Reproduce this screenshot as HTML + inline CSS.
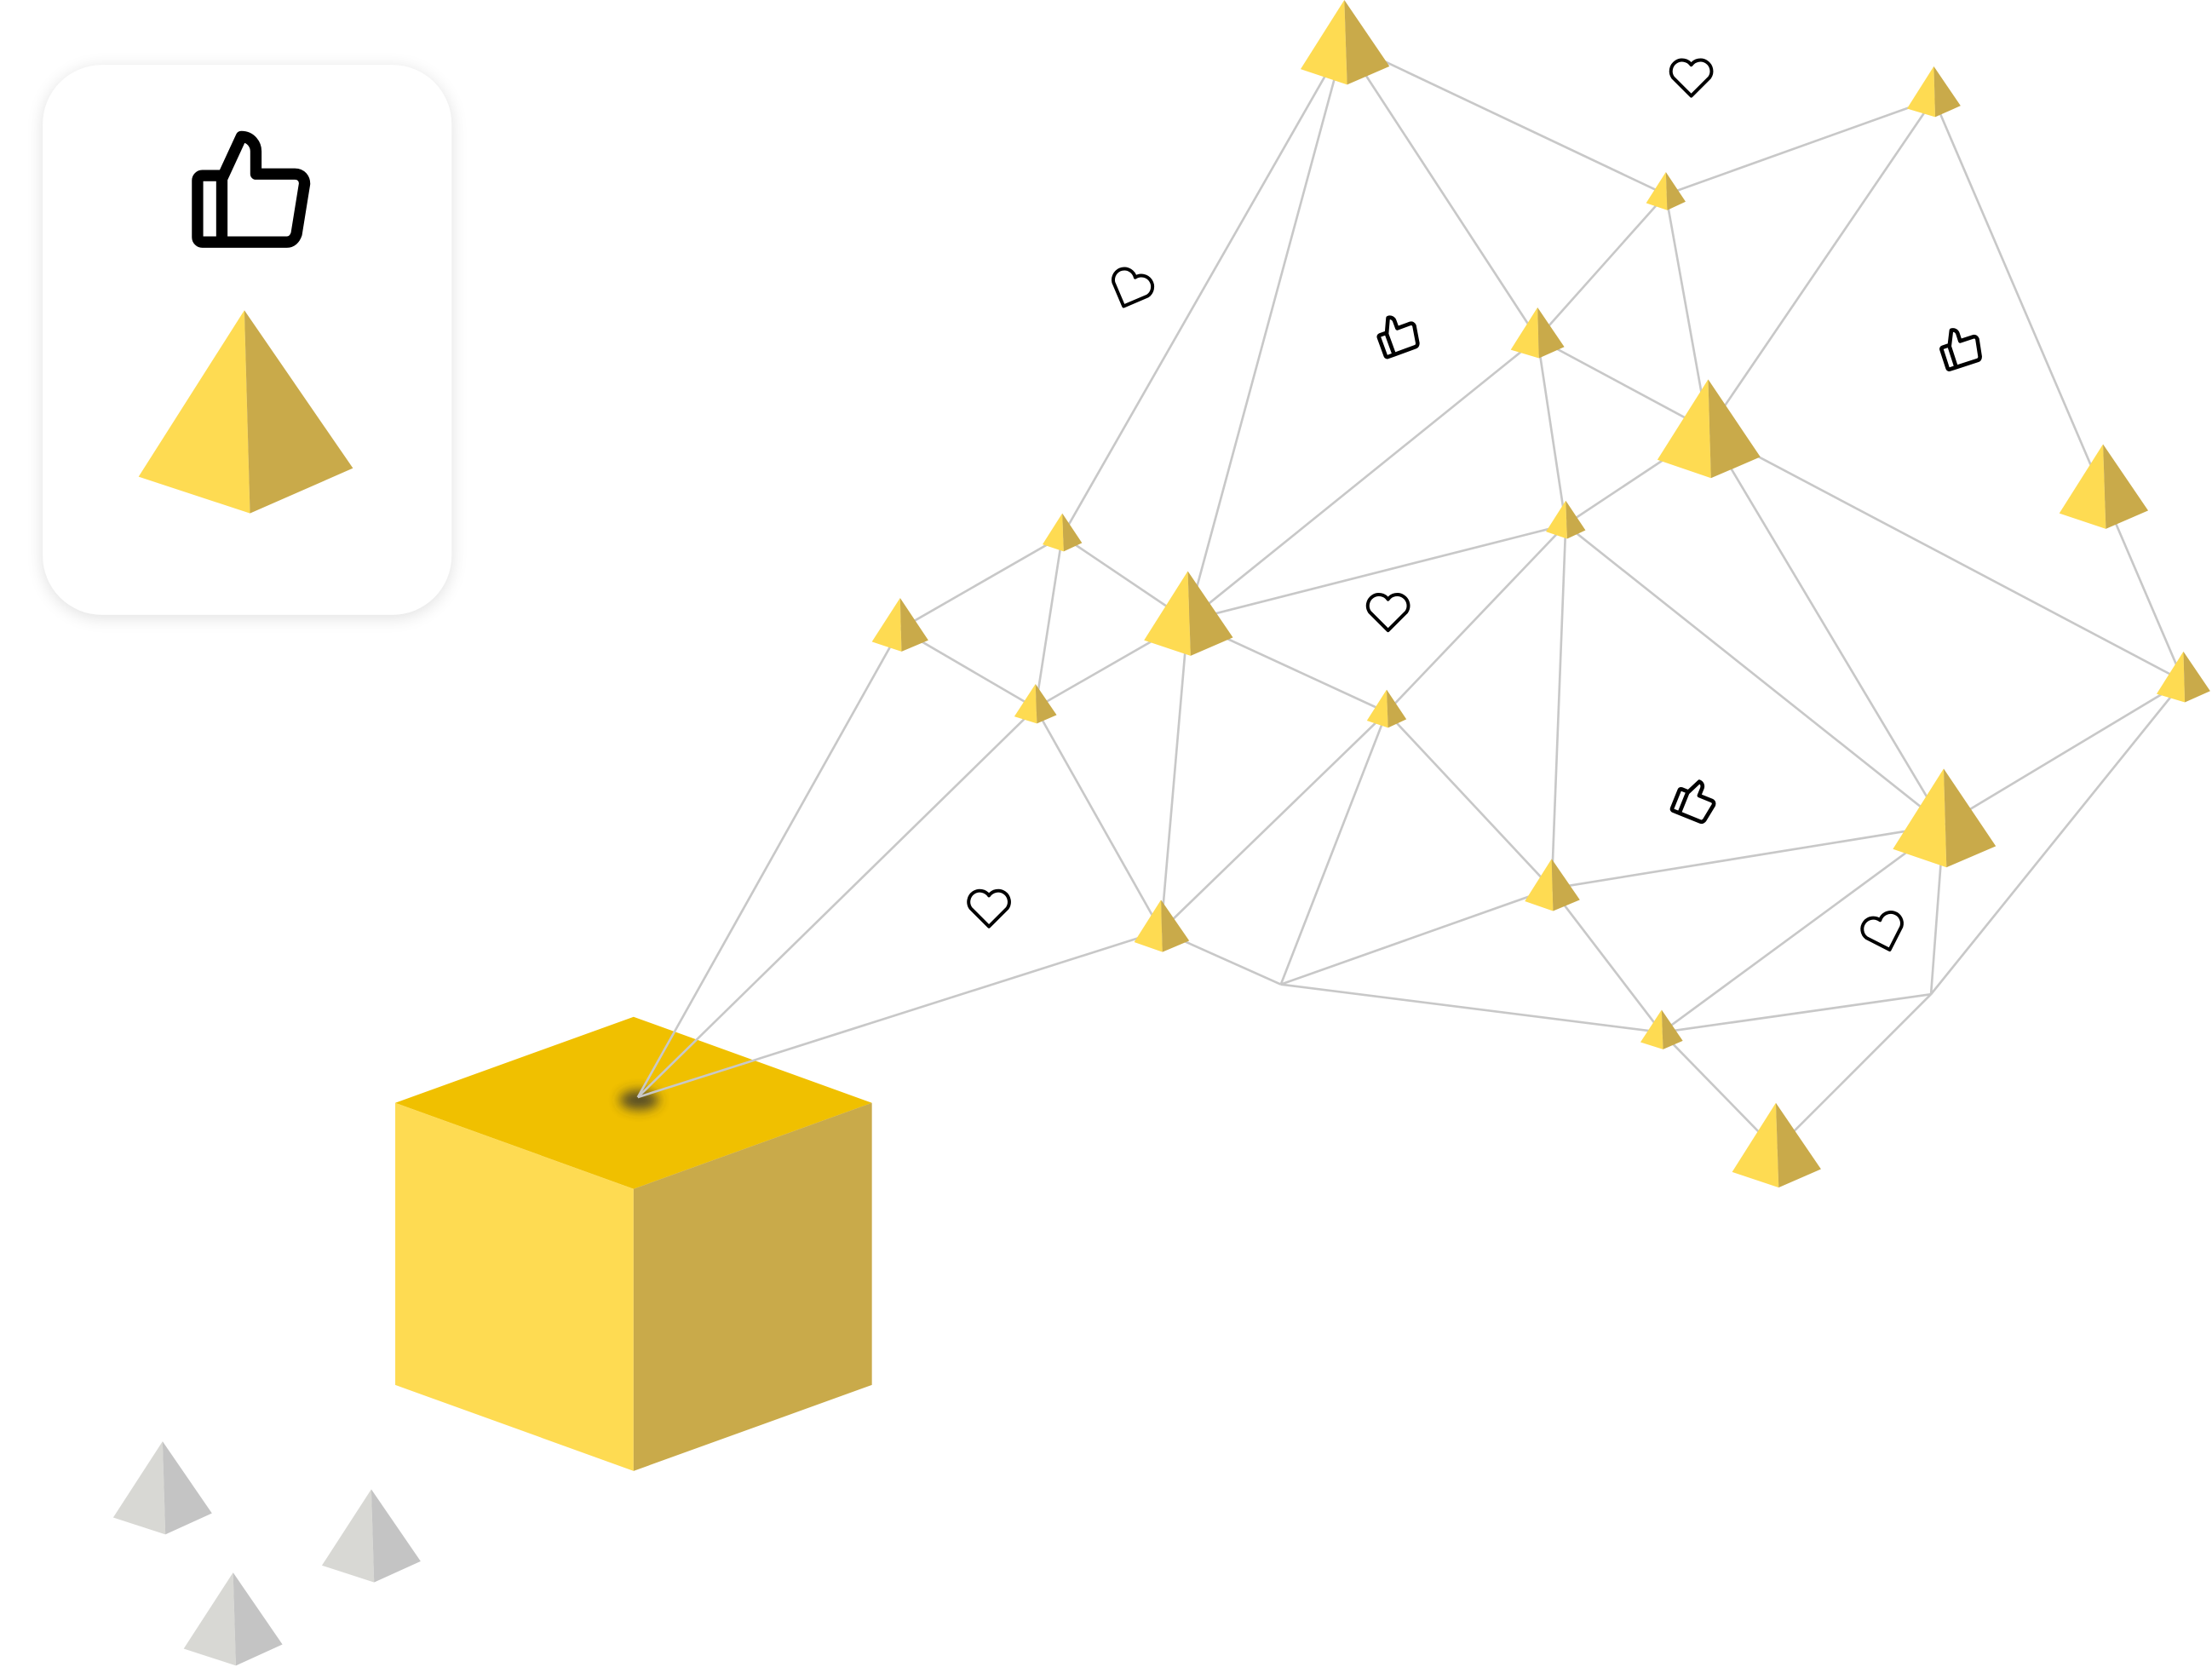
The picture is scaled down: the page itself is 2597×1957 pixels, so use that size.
<!DOCTYPE html>
<html><head><meta charset="utf-8"><style>
html,body{margin:0;padding:0;background:#fff;}
svg{display:block;}
</style></head><body>
<svg width="2597" height="1957" viewBox="0 0 1568 1182" xmlns="http://www.w3.org/2000/svg">
<defs>
<filter id="sh" x="-20%" y="-20%" width="140%" height="140%"><feGaussianBlur stdDeviation="6"/></filter>
<filter id="spot" x="-100%" y="-100%" width="300%" height="300%"><feGaussianBlur stdDeviation="4"/></filter>
<g id="thumb"><path d="M-25,-10 h12 v41 h-12 a3,3 0 0 1 -3,-3 v-35 a3,3 0 0 1 3,-3 Z M-13,-8 L-1,-34 c6,0 9,5 9,9 v14 h24 c4,0 6,3 6,6 l-5,31 c-1,3 -3,5 -6,5 H-13 Z" fill="none" stroke="#000" stroke-width="7" stroke-linejoin="round"/></g>
<g id="heart"><path d="M0,12 L-13,-1 A7,7 0 0 1 0,-10 A7,7 0 0 1 13,-1 Z" fill="none" stroke="#000" stroke-width="2.4" stroke-linejoin="round"/></g>
</defs>

<rect x="30" y="48" width="290" height="390" rx="42" fill="#000" opacity="0.12" filter="url(#sh)"/>
<rect x="30" y="46" width="290" height="390" rx="42" fill="#fff"/>
<use href="#thumb" transform="translate(172,136) scale(1.15)"/>
<polygon points="173,220 98,338 177,364" fill="#FEDB52"/>
<polygon points="173,220 177,364 250,332" fill="#C9AA4A"/>

<g stroke="#c8c8c8" stroke-width="1.6" fill="none">
<line x1="953" y1="30" x2="753" y2="380"/>
<line x1="953" y1="30" x2="842" y2="440"/>
<line x1="953" y1="30" x2="1090" y2="240"/>
<line x1="953" y1="30" x2="1181" y2="138"/>
<line x1="1181" y1="138" x2="1371" y2="70"/>
<line x1="1181" y1="138" x2="1090" y2="240"/>
<line x1="1181" y1="138" x2="1211" y2="305"/>
<line x1="1371" y1="70" x2="1211" y2="305"/>
<line x1="1371" y1="70" x2="1491" y2="350"/>
<line x1="1090" y1="240" x2="842" y2="440"/>
<line x1="1090" y1="240" x2="1211" y2="305"/>
<line x1="1090" y1="240" x2="1110" y2="372"/>
<line x1="1211" y1="305" x2="1110" y2="372"/>
<line x1="1211" y1="305" x2="1378" y2="585"/>
<line x1="1211" y1="305" x2="1548" y2="483"/>
<line x1="1491" y1="350" x2="1548" y2="483"/>
<line x1="753" y1="380" x2="638" y2="446"/>
<line x1="753" y1="380" x2="842" y2="440"/>
<line x1="753" y1="380" x2="734" y2="502"/>
<line x1="638" y1="446" x2="734" y2="502"/>
<line x1="842" y1="440" x2="734" y2="502"/>
<line x1="842" y1="440" x2="1110" y2="372"/>
<line x1="842" y1="440" x2="983" y2="505"/>
<line x1="842" y1="440" x2="823" y2="660"/>
<line x1="1110" y1="372" x2="983" y2="505"/>
<line x1="1110" y1="372" x2="1100" y2="630"/>
<line x1="1110" y1="372" x2="1378" y2="585"/>
<line x1="983" y1="505" x2="823" y2="660"/>
<line x1="983" y1="505" x2="1100" y2="630"/>
<line x1="983" y1="505" x2="908" y2="698"/>
<line x1="734" y1="502" x2="823" y2="660"/>
<line x1="823" y1="660" x2="908" y2="698"/>
<line x1="908" y1="698" x2="1100" y2="630"/>
<line x1="908" y1="698" x2="1178" y2="732"/>
<line x1="1100" y1="630" x2="1378" y2="585"/>
<line x1="1100" y1="630" x2="1178" y2="732"/>
<line x1="1378" y1="585" x2="1548" y2="483"/>
<line x1="1378" y1="585" x2="1178" y2="732"/>
<line x1="1378" y1="585" x2="1369" y2="705"/>
<line x1="1548" y1="483" x2="1369" y2="705"/>
<line x1="1178" y1="732" x2="1369" y2="705"/>
<line x1="1178" y1="732" x2="1259" y2="815"/>
<line x1="1369" y1="705" x2="1259" y2="815"/>
</g>

<polygon points="280,782 449,721 618,782 449,843" fill="#F0C000"/>
<polygon points="280,782 449,843 449,1043 280,982" fill="#FEDB52"/>
<polygon points="449,843 618,782 618,982 449,1043" fill="#C9AA4A"/>
<ellipse cx="453" cy="780" rx="14" ry="7" fill="#333" opacity="0.8" filter="url(#spot)"/>
<g stroke="#c8c8c8" stroke-width="1.6">
<line x1="638" y1="446" x2="452" y2="778"/>
<line x1="734" y1="502" x2="452" y2="778"/>
<line x1="823" y1="660" x2="452" y2="778"/>
</g>

<g>
<polygon points="953,0 922,49 955,60" fill="#FEDB52"/><polygon points="953,0 955,60 985,47" fill="#C9AA4A"/>
<polygon points="1371,47 1352,77 1372,83" fill="#FEDB52"/><polygon points="1371,47 1372,83 1390,75" fill="#C9AA4A"/>
<polygon points="1181,122 1167,144 1182,149" fill="#FEDB52"/><polygon points="1181,122 1182,149 1195,143" fill="#C9AA4A"/>
<polygon points="1090,218 1071,248 1091,254" fill="#FEDB52"/><polygon points="1090,218 1091,254 1109,246" fill="#C9AA4A"/>
<polygon points="1211,269 1175,326 1213,339" fill="#FEDB52"/><polygon points="1211,269 1213,339 1248,324" fill="#C9AA4A"/>
<polygon points="1491,315 1460,364 1493,375" fill="#FEDB52"/><polygon points="1491,315 1493,375 1523,362" fill="#C9AA4A"/>
<polygon points="753,364 739,386 754,391" fill="#FEDB52"/><polygon points="753,364 754,391 767,385" fill="#C9AA4A"/>
<polygon points="638,424 618,455 639,462" fill="#FEDB52"/><polygon points="638,424 639,462 658,454" fill="#C9AA4A"/>
<polygon points="842,405 811,454 844,465" fill="#FEDB52"/><polygon points="842,405 844,465 874,452" fill="#C9AA4A"/>
<polygon points="1110,355 1096,377 1111,382" fill="#FEDB52"/><polygon points="1110,355 1111,382 1124,376" fill="#C9AA4A"/>
<polygon points="983,489 969,511 984,516" fill="#FEDB52"/><polygon points="983,489 984,516 997,510" fill="#C9AA4A"/>
<polygon points="734,485 719,508 735,513" fill="#FEDB52"/><polygon points="734,485 735,513 749,507" fill="#C9AA4A"/>
<polygon points="1548,462 1529,492 1549,498" fill="#FEDB52"/><polygon points="1548,462 1549,498 1567,490" fill="#C9AA4A"/>
<polygon points="1378,545 1342,602 1380,615" fill="#FEDB52"/><polygon points="1378,545 1380,615 1415,600" fill="#C9AA4A"/>
<polygon points="1100,609 1081,639 1101,646" fill="#FEDB52"/><polygon points="1100,609 1101,646 1120,638" fill="#C9AA4A"/>
<polygon points="823,638 804,668 824,675" fill="#FEDB52"/><polygon points="823,638 824,675 843,667" fill="#C9AA4A"/>
<polygon points="1178,716 1163,739 1179,744" fill="#FEDB52"/><polygon points="1178,716 1179,744 1193,738" fill="#C9AA4A"/>
<polygon points="1259,782 1228,831 1261,842" fill="#FEDB52"/><polygon points="1259,782 1261,842 1291,829" fill="#C9AA4A"/>
<polygon points="115,1022 80,1076 117,1088" fill="#D8D8D4"/><polygon points="115,1022 117,1088 150,1073" fill="#C4C4C4"/>
<polygon points="263,1056 228,1110 265,1122" fill="#D8D8D4"/><polygon points="263,1056 265,1122 298,1107" fill="#C4C4C4"/>
<polygon points="165,1115 130,1169 167,1181" fill="#D8D8D4"/><polygon points="165,1115 167,1181 200,1166" fill="#C4C4C4"/>
</g>

<use href="#heart" transform="translate(1199,56)"/>
<use href="#heart" transform="translate(801,206) rotate(22)"/>
<use href="#heart" transform="translate(984,435)"/>
<use href="#heart" transform="translate(701,645)"/>
<use href="#heart" transform="translate(1336,662) rotate(-18)"/>
<use href="#thumb" transform="translate(989,238) rotate(-20) scale(0.4)"/>
<use href="#thumb" transform="translate(1388,247) rotate(-18) scale(0.4)"/>
<use href="#thumb" transform="translate(1200,567) rotate(22) scale(0.4)"/>
</svg>
</body></html>
